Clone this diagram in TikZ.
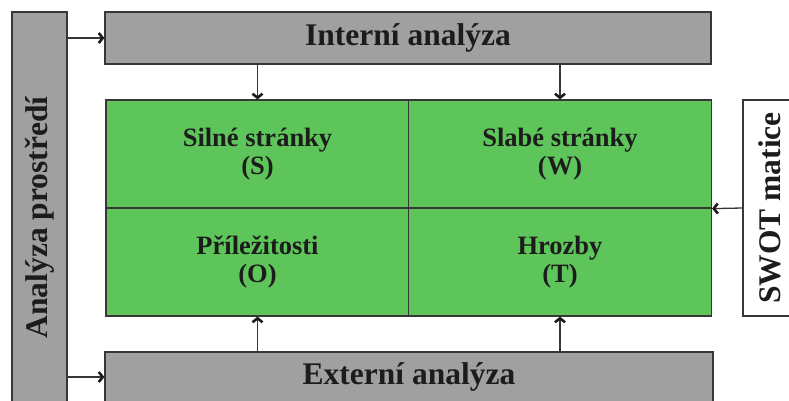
\documentclass[tikz,border=0pt]{standalone}
\usepackage{fontspec}
\setmainfont{Liberation Serif}
\usetikzlibrary{arrows.meta}
\definecolor{boxgray}{RGB}{160,160,160}
\definecolor{swotgreen}{RGB}{94,197,90}
\definecolor{edgeline}{RGB}{55,55,55}
\definecolor{ink}{RGB}{28,28,28}
\tikzset{
  base/.style={draw=edgeline, line width=1.2pt, inner sep=0pt, text=ink,
    font=\fontsize{31.5}{36}\selectfont\bfseries, align=center},
  graybox/.style={base, fill=boxgray},
  cell/.style={base, fill=swotgreen, minimum width=303, minimum height=108,
    font=\fontsize{26.5}{28}\selectfont\bfseries},
  whitebox/.style={base, fill=white},
  arr/.style={draw=edgeline, line width=1.3pt,
    -{Straight Barb[length=4pt,width=10pt,line width=2.6pt,color=ink]}},
}
\begin{document}
\begin{tikzpicture}[x=1pt,y=-1pt]
\useasboundingbox (0,0) rectangle (789,400);
\clip (0,0) rectangle (789,400);

% analysis frame
\node[graybox, rotate=90, minimum width=411, minimum height=55] (env) at (39.5,217.5) {Analýza prostředí};
\node[graybox, minimum width=606, minimum height=52] (int) at (408,38) {Interní analýza};
\node[graybox, minimum width=608, minimum height=50] (ext) at (409,377) {Externí analýza};

% SWOT matrix
\node[cell] (S) at (257.5,154) {Silné stránky\\(S)};
\node[cell] (W) at (560,154) {Slabé stránky\\(W)};
\node[cell] (O) at (257.5,262) {Příležitosti\\(O)};
\node[cell] (T) at (560,262) {Hrozby\\(T)};

\node[whitebox, rotate=90, minimum width=216, minimum height=54] (swot) at (770,208) {SWOT matice};

% connectors
\draw[arr] (env.south |- int.west) -- (int.west);
\draw[arr] (env.south |- ext.west) -- (ext.west);
\draw[arr] (int.south -| S.north) -- (S.north);
\draw[arr] (int.south -| W.north) -- (W.north);
\draw[arr] (ext.north -| O.south) -- (O.south);
\draw[arr] (ext.north -| T.south) -- (T.south);
\draw[arr] (swot.north) -- (W.south east);
\end{tikzpicture}
\end{document}
